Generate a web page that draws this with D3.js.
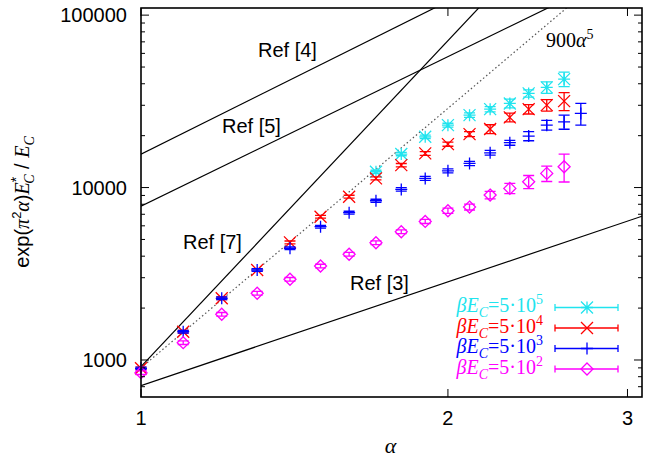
<!DOCTYPE html>
<html>
<head>
<meta charset="utf-8">
<script src="https://cdn.jsdelivr.net/npm/d3@7"></script>
<style>
    body { margin: 0; background: #fff; }
    text { fill: #000; }
</style>
</head>
<body>
<svg id="chart" width="647" height="458"></svg>
<script>
// ---- data ----
const xTicks = [1, 2, 3];
const yMajorTicks = [1000, 10000, 100000];
const yMinorTicks = [700, 800, 900, 2000, 3000, 4000, 5000, 6000, 7000, 8000, 9000,
    20000, 30000, 40000, 50000, 60000, 70000, 80000, 90000];

const alphaCyan = [1.7, 1.8, 1.9, 2.0, 2.1, 2.2, 2.3, 2.4, 2.5, 2.6];
const valueCyan = [12350, 15640, 19700, 23010, 26300, 28500, 30760, 35160, 38100, 42560];
const errorCyan = [250, 350, 450, 600, 800, 1000, 1800, 1700, 2900, 4100];

const alphaRed = [1.0, 1.1, 1.2, 1.3, 1.4, 1.5, 1.6, 1.7, 1.8, 1.9, 2.0, 2.1, 2.2, 2.3, 2.4, 2.5, 2.6];
const valueRed = [895, 1459, 2279, 3325, 4807, 6774, 8854, 11300, 13490, 15780, 17860, 20420, 21840, 25530, 28500, 30060, 31720];
const errorRed = [15, 25, 40, 60, 90, 120, 170, 220, 300, 400, 500, 700, 1300, 1500, 1800, 2300, 3800];

const alphaBlue = [1.0, 1.1, 1.2, 1.3, 1.4, 1.5, 1.6, 1.7, 1.8, 1.9, 2.0, 2.1, 2.2, 2.3, 2.4, 2.5, 2.6, 2.7];
const valueBlue = [895, 1459, 2279, 3325, 4441, 5933, 7146, 8385, 9760, 11300, 12510, 13800, 15910, 18200, 19890, 23010, 24040, 26900];
const errorBlue = [15, 25, 40, 60, 80, 110, 140, 170, 220, 300, 330, 400, 500, 600, 1200, 1500, 2250, 3900];

const alphaMagenta = [1.0, 1.1, 1.2, 1.3, 1.4, 1.5, 1.6, 1.7, 1.8, 1.9, 2.0, 2.1, 2.2, 2.3, 2.4, 2.5, 2.6];
const valueMagenta = [844, 1260, 1841, 2438, 2938, 3507, 4103, 4786, 5540, 6360, 7340, 7709, 9047, 9890, 10800, 12080, 13200];
const errorMagenta = [20, 30, 45, 60, 70, 85, 100, 120, 140, 170, 250, 300, 450, 680, 950, 1240, 2430];

// reference lines: endpoints [alpha, value]
const refLines = [
    { label: 'Ref [4]', from: [1, 15600], to: [3.1, 438000], dotted: false },
    { label: 'Ref [5]', from: [1, 7800], to: [3.1, 203000], dotted: false },
    { label: 'Ref [7]', from: [1, 915], to: [3.1, 1115000], dotted: false },
    { label: 'Ref [3]', from: [1, 710], to: [3.1, 6820], dotted: false },
    { label: '900a5', from: [1, 900], to: [3.1, 257700], dotted: true },
];

// ---- layout ----
const width = 647, height = 458;
const plotLeft = 141, plotRight = 642, plotTop = 8, plotBottom = 397;
const sansFont = '"Liberation Sans", Arial, sans-serif';
const serifFont = '"Liberation Serif", "Times New Roman", serif';

const svg = d3.select('#chart');

const x = d3.scaleLog().domain([1, 3.1]).range([plotLeft, plotRight]);
const y = d3.scaleLog().domain([610, 110000]).range([plotBottom, plotTop]);

svg.append('defs').append('clipPath').attr('id', 'plotClip')
    .append('rect')
    .attr('x', plotLeft).attr('y', plotTop)
    .attr('width', plotRight - plotLeft).attr('height', plotBottom - plotTop);

// reference lines
const lineGen = d3.line().x(d => x(d[0])).y(d => y(d[1]));
svg.append('g').attr('clip-path', 'url(#plotClip)')
    .selectAll('path.ref')
    .data(refLines)
    .join('path')
    .attr('class', 'ref')
    .attr('d', d => lineGen([d.from, d.to]))
    .attr('fill', 'none')
    .attr('stroke', d => d.dotted ? '#555' : '#000')
    .attr('stroke-width', d => d.dotted ? 1.2 : 1.2)
    .attr('stroke-dasharray', d => d.dotted ? '1.5,2.5' : null);

// reference labels
const refLabelPos = { 'Ref [4]': [258, 57], 'Ref [5]': [222, 133], 'Ref [7]': [183, 249], 'Ref [3]': [350, 290] };
Object.keys(refLabelPos).forEach(k => {
    svg.append('text')
        .attr('x', refLabelPos[k][0]).attr('y', refLabelPos[k][1])
        .style('font-family', sansFont).style('font-size', '20px')
        .text(k);
});
const fitLabel = svg.append('text').attr('x', 546).attr('y', 47)
    .style('font-family', serifFont).style('font-size', '20px');
fitLabel.append('tspan').text('900');
fitLabel.append('tspan').style('font-style', 'italic').text('α');
fitLabel.append('tspan').attr('dy', -8).style('font-size', '14px').text('5');

// ---- markers ----
const s = 6;
const markerPaths = {
    asterisk: `M${-s},0H${s}M0,${-s}V${s}M${-s},${-s}L${s},${s}M${-s},${s}L${s},${-s}`,
    cross: `M${-s},${-s}L${s},${s}M${-s},${s}L${s},${-s}`,
    plus: `M${-s},0H${s}M0,${-s}V${s}`,
    diamond: `M0,${-s}L${s},0L0,${s}L${-s},0Z`,
};

const series = [
    { alpha: alphaCyan, value: valueCyan, error: errorCyan, color: '#20e4ee', marker: 'asterisk', exp: '5' },
    { alpha: alphaRed, value: valueRed, error: errorRed, color: '#ff0000', marker: 'cross', exp: '4' },
    { alpha: alphaBlue, value: valueBlue, error: errorBlue, color: '#0000ff', marker: 'plus', exp: '3' },
    { alpha: alphaMagenta, value: valueMagenta, error: errorMagenta, color: '#ff00ff', marker: 'diamond', exp: '2' },
];

const capHalf = 5.5;
series.forEach(ser => {
    const pts = ser.alpha.map((a, i) => ({ a, v: ser.value[i], e: ser.error[i] }));
    const g = svg.append('g')
        .attr('stroke', ser.color)
        .attr('stroke-width', 1.3)
        .attr('fill', 'none');

    // error bars
    g.selectAll('path.err')
        .data(pts)
        .join('path')
        .attr('class', 'err')
        .attr('d', d => {
            const cx = x(d.a), y0 = y(d.v - d.e), y1 = y(d.v + d.e);
            return `M${cx},${y0}V${y1}M${cx - capHalf},${y0}H${cx + capHalf}M${cx - capHalf},${y1}H${cx + capHalf}`;
        });

    // markers
    g.selectAll('path.mark')
        .data(pts)
        .join('path')
        .attr('class', 'mark')
        .attr('transform', d => `translate(${x(d.a)},${y(d.v)})`)
        .attr('d', markerPaths[ser.marker]);
});

// ---- frame and ticks ----
const frame = svg.append('g').attr('stroke', '#000').attr('fill', 'none');
frame.append('rect')
    .attr('x', plotLeft).attr('y', plotTop)
    .attr('width', plotRight - plotLeft).attr('height', plotBottom - plotTop)
    .attr('stroke-width', 1.6);

const majorLen = 8, minorLen = 4;
yMajorTicks.forEach(t => {
    frame.append('path').attr('d', `M${plotLeft},${y(t)}h${majorLen}M${plotRight},${y(t)}h${-majorLen}`).attr('stroke-width', 1);
});
yMinorTicks.forEach(t => {
    frame.append('path').attr('d', `M${plotLeft},${y(t)}h${minorLen}M${plotRight},${y(t)}h${-minorLen}`).attr('stroke-width', 1);
});
xTicks.forEach(t => {
    frame.append('path').attr('d', `M${x(t)},${plotBottom}v${-majorLen}M${x(t)},${plotTop}v${majorLen}`).attr('stroke-width', 1);
});

svg.append('g').selectAll('text')
    .data(yMajorTicks)
    .join('text')
    .attr('x', 127)
    .attr('y', d => y(d))
    .attr('dy', '0.35em')
    .attr('text-anchor', 'end')
    .style('font-family', sansFont).style('font-size', '20px')
    .text(d => d);

svg.append('g').selectAll('text')
    .data(xTicks)
    .join('text')
    .attr('x', d => x(d))
    .attr('y', 425)
    .attr('text-anchor', 'middle')
    .style('font-family', sansFont).style('font-size', '20px')
    .text(d => d);

// axis titles
svg.append('text')
    .attr('x', (plotLeft + plotRight) / 2 - 1).attr('y', 453)
    .attr('text-anchor', 'middle')
    .style('font-family', serifFont).style('font-style', 'italic').style('font-size', '22px')
    .text('α');

const yTitle = svg.append('text')
    .attr('transform', 'translate(29,202) rotate(-90)')
    .attr('text-anchor', 'middle')
    .style('font-family', sansFont).style('font-size', '20px');
yTitle.append('tspan').text('exp(');
yTitle.append('tspan').style('font-family', serifFont).style('font-style', 'italic').text('π');
yTitle.append('tspan').attr('dy', -8).style('font-size', '13px').text('2');
yTitle.append('tspan').attr('dy', 8).style('font-family', serifFont).style('font-style', 'italic').text('α');
yTitle.append('tspan').text(')');
yTitle.append('tspan').style('font-family', serifFont).style('font-style', 'italic').text('E');
yTitle.append('tspan').attr('dy', -8).style('font-size', '14px').text('*');
yTitle.append('tspan').attr('dx', -7).attr('dy', 13).style('font-family', serifFont).style('font-style', 'italic').style('font-size', '14px').text('C');
yTitle.append('tspan').attr('dy', -5).text(' / ');
yTitle.append('tspan').style('font-family', serifFont).style('font-style', 'italic').text('E');
yTitle.append('tspan').attr('dy', 5).style('font-family', serifFont).style('font-style', 'italic').style('font-size', '14px').text('C');

// ---- legend ----
const legendTextRight = 543, legendTop = 312, legendStep = 20.5;
const sampleLeft = 555, sampleRight = 618, sampleMid = 587;
series.forEach((ser, i) => {
    const by = legendTop + i * legendStep;
    const t = svg.append('text')
        .attr('x', legendTextRight).attr('y', by)
        .attr('text-anchor', 'end')
        .style('font-family', serifFont).style('font-size', '20px')
        .style('fill', ser.color);
    t.append('tspan').style('font-style', 'italic').text('βE');
    t.append('tspan').attr('dy', 5).style('font-style', 'italic').style('font-size', '14px').text('C');
    t.append('tspan').attr('dy', -5).text('=5·10');
    t.append('tspan').attr('dy', -8).style('font-size', '14px').text(ser.exp);

    const sy = by - 4.5;
    const g = svg.append('g').attr('stroke', ser.color).attr('stroke-width', 1.3).attr('fill', 'none');
    g.append('path').attr('d', `M${sampleLeft},${sy}H${sampleRight}M${sampleLeft},${sy - 3.5}v7M${sampleRight},${sy - 3.5}v7`);
    g.append('path').attr('transform', `translate(${sampleMid},${sy})`).attr('d', markerPaths[ser.marker]);
});
</script>
</body>
</html>
